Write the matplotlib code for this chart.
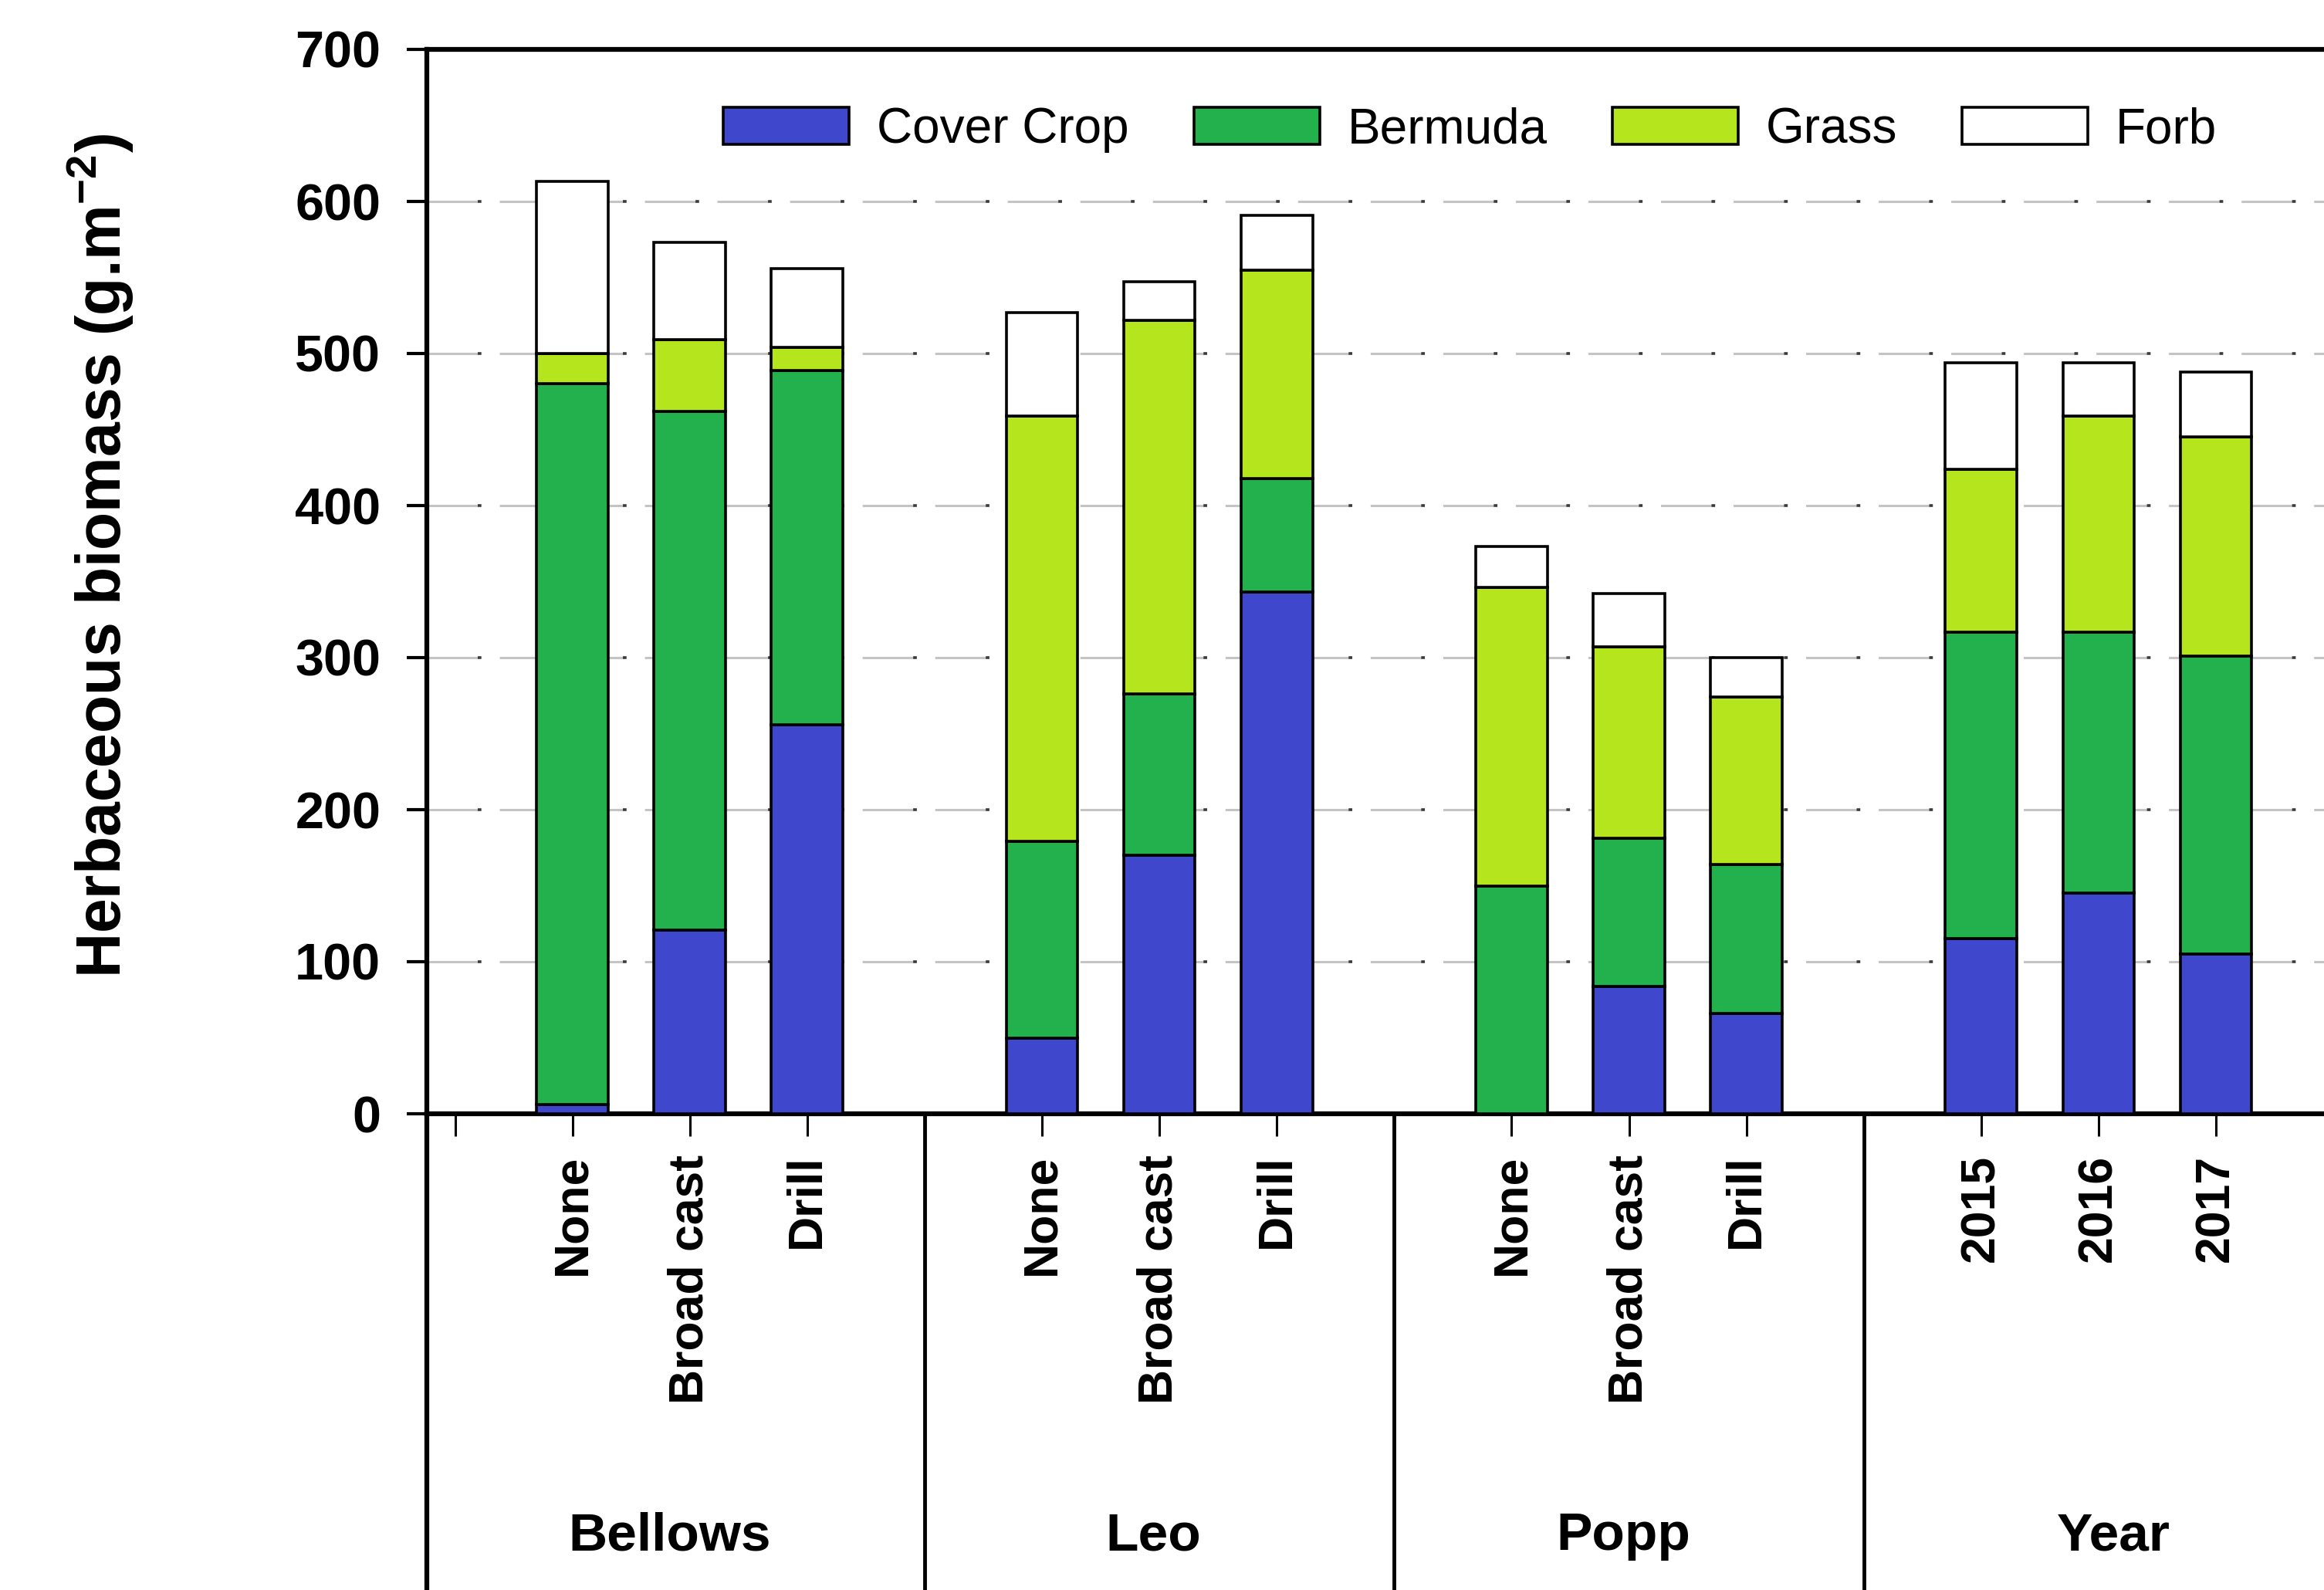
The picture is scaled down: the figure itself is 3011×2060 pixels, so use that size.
import numpy as np
import matplotlib.pyplot as plt
from matplotlib.patches import Patch

plt.rcParams['font.family'] = ['Liberation Sans', 'DejaVu Sans']
plt.rcParams['mathtext.fontset'] = 'custom'
plt.rcParams['mathtext.rm'] = 'Liberation Sans'
plt.rcParams['mathtext.bf'] = 'Liberation Sans:bold'
plt.rcParams['lines.scale_dashes'] = False

groups = ['Bellows', 'Leo', 'Popp', 'Year']
treatments = [['None', 'Broad cast', 'Drill'],
              ['None', 'Broad cast', 'Drill'],
              ['None', 'Broad cast', 'Drill'],
              ['2015', '2016', '2017']]

# herbaceous biomass by component (g/m2), bars in plotting order
cover_crop = [6, 121, 256, 50, 170, 343, 0, 84, 66, 115, 145, 105]
bermuda = [474, 341, 233, 129, 106, 75, 150, 97, 98, 202, 172, 196]
grass = [20, 47, 15, 280, 246, 137, 196, 126, 110, 107, 142, 144]
forb = [113, 64, 52, 68, 25, 36, 27, 35, 26, 70, 35, 43]

components = ['Cover Crop', 'Bermuda', 'Grass', 'Forb']
colors = ['#3f48cc', '#22b14c', '#b5e61d', '#ffffff']

# each group takes 3 slots plus an empty slot as separator
pos = np.array([4 * g + i + 1 for g in range(len(groups)) for i in range(3)])
labels = [t for grp in treatments for t in grp]
xmin, xmax = -0.24, 16.36

fig = plt.figure(figsize=(30.11, 20.60), dpi=100)
ax = fig.add_axes([553 / 3011, 617 / 2060, (xmax - xmin) * 152.1 / 3011, 1379 / 2060])

# dashed grid: grey dash followed by a dark dot
for y in range(100, 700, 100):
    ax.axhline(y, color='#c4c4c4', lw=2.2, linestyle=(0, (47.5, 20.2)), zorder=0.5)
    ax.axhline(y, color='#3a3a3a', lw=2.6, linestyle=(20.2, (3.4, 64.3)), zorder=0.6)

bottom = np.zeros(len(pos))
for name, vals, col in zip(components, [cover_crop, bermuda, grass, forb], colors):
    ax.bar(pos, vals, width=0.61, bottom=bottom, color=col, edgecolor='black',
           linewidth=2.6, zorder=3, label=name)
    bottom += np.array(vals)

ax.set_xlim(xmin, xmax)
ax.set_ylim(0, 700)
ax.set_yticks(range(0, 800, 100))
ax.tick_params(axis='y', direction='out', length=19, width=3, pad=24, labelsize=48)
for t in ax.get_yticklabels():
    t.set_fontweight('bold')

ax.set_xticks(np.concatenate([[0], pos]))
ax.set_xticklabels([''] + labels, rotation=90, fontsize=45, fontweight='bold')
ax.tick_params(axis='x', direction='out', length=21, width=2.2, pad=17)

for side in ['left', 'top', 'bottom']:
    ax.spines[side].set_linewidth(4.5)
ax.spines['right'].set_visible(False)

# group separators running down below the axis, and group names
xt = ax.get_xaxis_transform()
bounds = [xmin, 4, 8, 12, xmax]
for b in bounds[:-1]:
    ax.plot([b, b], [0, -0.6], color='black', lw=3.5 if b != xmin else 4.5,
            transform=xt, clip_on=False)
for i, g in enumerate(groups):
    ax.text((bounds[i] + bounds[i + 1]) / 2 - 0.05, -0.41, g, transform=xt,
            ha='center', va='baseline', fontsize=50, fontweight='bold')

fig.text(130 / 3011, 1 - 720 / 2060, r'Herbaceous biomass (g.m$^{\mathbf{-2}}$)',
         rotation=90, ha='center', va='center', fontsize=58, fontweight='bold')

handles = [Patch(facecolor=c, edgecolor='black', linewidth=2.6) for c in colors]
fig.legend(handles, components, loc='center left',
           bbox_to_anchor=(937 / 3011, 1 - 168 / 2060), ncol=4, frameon=False,
           fontsize=46, handlelength=2.55, handleheight=0.78, handletextpad=0.56,
           columnspacing=1.32, borderpad=0, borderaxespad=0)

fig.savefig('out.png', dpi=100)
